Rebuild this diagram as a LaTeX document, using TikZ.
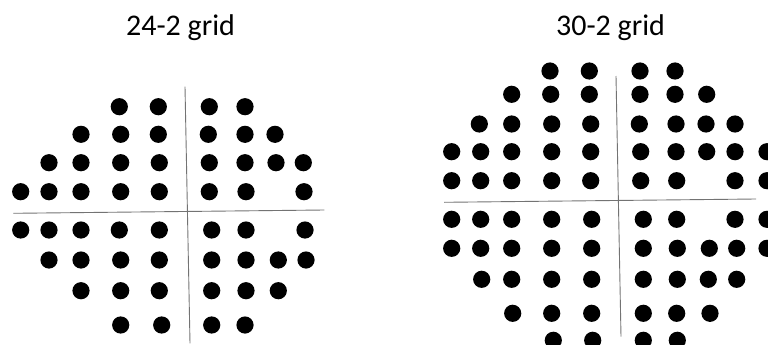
\documentclass[tikz,border=0pt]{standalone}
\usepackage{fontspec}
\setmainfont{Carlito}
\begin{document}
\begin{tikzpicture}[x=1pt,y=-1pt,
  dot/.style={fill=black},
  axis/.style={draw=black!55,line width=0.9pt},
  title/.style={font=\fontsize{30}{36}\selectfont,anchor=base,inner sep=0pt}]
\useasboundingbox (0,0) rectangle (768,345);
\clip (0,0) rectangle (768,345);
% titles
\node[title] (t1) at (180.5,36) {24-2 grid};
\node[title] (t2) at (610.5,36) {30-2 grid};
% 24-2 grid axes
\coordinate (lh1) at (13.3,213.3);
\coordinate (lh2) at (324.3,210);
\coordinate (lv1) at (185,86.7);
\coordinate (lv2) at (190,343.3);
\draw[axis] (lh1) -- (lh2);
\draw[axis] (lv1) -- (lv2);
% 24-2 dots
\foreach \yy/\xs in {
  106.7/{119.3,158.3,209.3,245},
  134.3/{81,120.7,158.3,208.3,245,275},
  162.7/{49,81,120.7,159.3,209.3,245,276,303.3},
  191.7/{20.7,49,81,120.7,159.3,209.3,246,304},
  230/{20.7,49,81,119.3,159.3,211.7,246,305},
  260/{49,81,120.7,159.3,211.7,246,278.3,306},
  290.7/{81,120.7,159.3,211.7,246,278.3},
  325/{120.7,161.7,211.7,245}}{
  \foreach \xx in \xs { \fill[dot] (\xx,\yy) circle[radius=8.6pt]; }
}
% 30-2 grid axes
\coordinate (rh1) at (444,202.3);
\coordinate (rh2) at (756,199);
\coordinate (rv1) at (616,76);
\coordinate (rv2) at (621,336.7);
\draw[axis] (rh1) -- (rh2);
\draw[axis] (rv1) -- (rv2);
% 30-2 dots
\foreach \yy/\xs in {
  71/{550,589.3,640,675},
  94.3/{511.7,550.7,589.3,640,675,706.7},
  124/{479.3,511.7,551.7,590.7,639.3,676,706,735},
  151.7/{451.7,480.7,511.7,551.7,590.7,640.7,676,706.7,735,767},
  180.7/{451.7,480.7,511.7,551.7,590.7,640.7,676.7,735,767},
  219.3/{451.7,480.7,511.7,551.7,591.7,643.3,676.7,735,767},
  248.3/{451.7,480.7,511.7,551.7,591.7,643.3,677.3,709.3,736.7,767},
  279.3/{481.7,511.7,551.7,591.7,643.3,677.3,708.3,736.7},
  313.3/{512.7,551.7,591.7,643.3,676.7,710},
  340.3/{553.3,592.7,643.3,677.3}}{
  \foreach \xx in \xs { \fill[dot] (\xx,\yy) circle[radius=8.6pt]; }
}
\end{tikzpicture}
\end{document}
